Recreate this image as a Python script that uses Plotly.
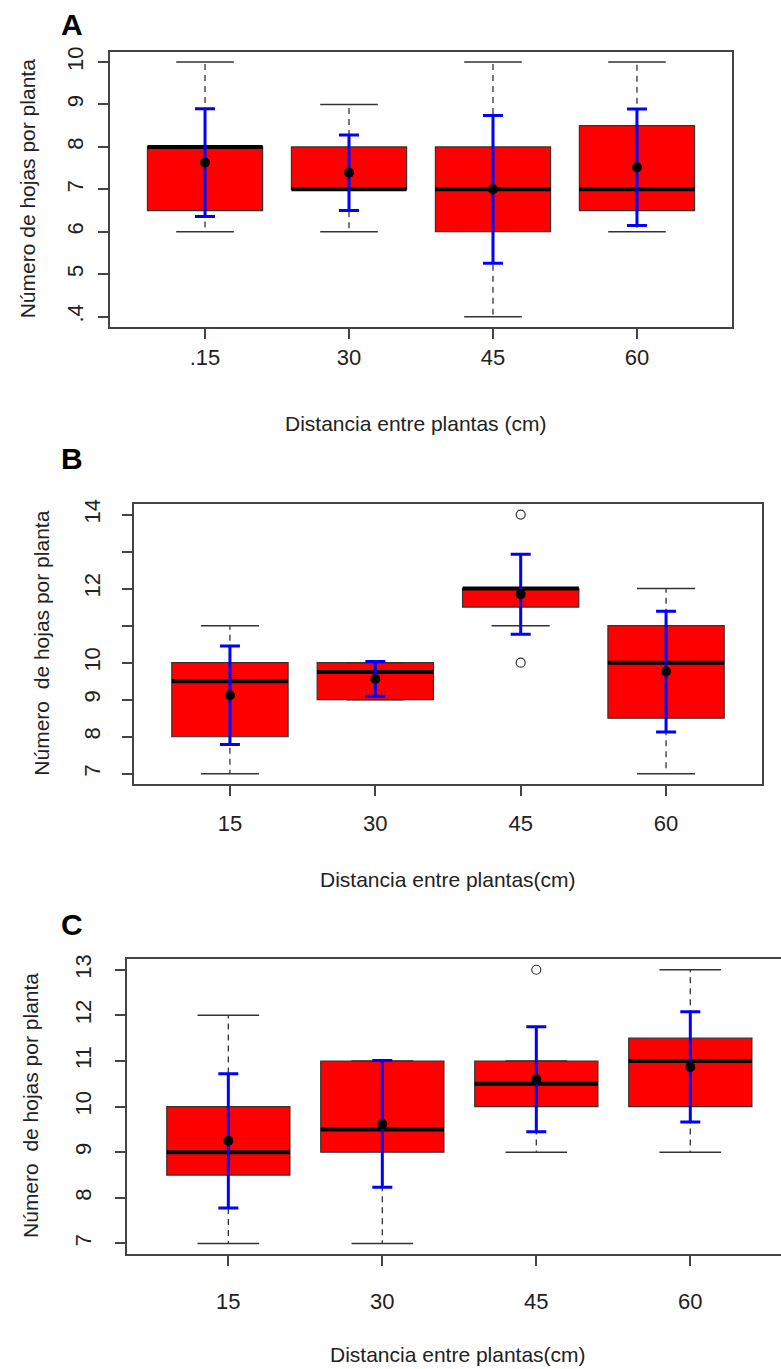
import plotly.graph_objects as go

W, H = 781, 1369

categories = ["15", "30", "45", "60"]

# Panel A
A_q1 = [6.5, 7.0, 6.0, 6.5]
A_med = [8.0, 7.0, 7.0, 7.0]
A_q3 = [8.0, 8.0, 8.0, 8.5]
A_lo = [6, 6, 4, 6]
A_hi = [10, 9, 10, 10]
A_out = [[], [], [], []]
A_mean = [7.63, 7.39, 7.00, 7.52]
A_sd = [1.27, 0.89, 1.74, 1.37]

# Panel B
B_q1 = [8.0, 9.0, 11.5, 8.5]
B_med = [9.5, 9.75, 12.0, 10.0]
B_q3 = [10.0, 10.0, 12.0, 11.0]
B_lo = [7, 9, 11, 7]
B_hi = [11, 10, 12, 12]
B_out = [[], [], [14, 10], []]
B_mean = [9.12, 9.56, 11.85, 9.76]
B_sd = [1.33, 0.47, 1.08, 1.63]

# Panel C
C_q1 = [8.5, 9.0, 10.0, 10.0]
C_med = [9.0, 9.5, 10.5, 11.0]
C_q3 = [10.0, 11.0, 11.0, 11.5]
C_lo = [7, 7, 9, 9]
C_hi = [12, 11, 11, 13]
C_out = [[], [], [13], []]
C_mean = [9.25, 9.62, 10.60, 10.87]
C_sd = [1.47, 1.39, 1.15, 1.21]

A_xticks = [".15", "30", "45", "60"]
A_yticks = [4, 5, 6, 7, 8, 9, 10]
A_yticktext = [".4", "5", "6", "7", "8", "9", "10"]
B_yticks = [7, 8, 9, 10, 11, 12, 13, 14]
B_yticktext = ["7", "8", "9", "10", "", "12", "", "14"]
C_yticks = [7, 8, 9, 10, 11, 12, 13]
C_yticktext = ["7", "8", "9", "10", "11", "12", "13"]

FONT = "Liberation Sans, Arial, sans-serif"
RED = "#FF0000"
BLUE = "#0000FF"
DARK = "#333333"

fig = go.Figure()


def add_panel(n, q1, med, q3, lo, hi, outs, mean, sd):
    xa = "x" if n == 1 else f"x{n}"
    ya = "y" if n == 1 else f"y{n}"
    pos = list(range(1, len(q1) + 1))
    # box bodies
    fig.add_trace(go.Bar(
        x=pos, y=[b - a for a, b in zip(q1, q3)], base=q1, width=0.8,
        marker=dict(color=RED, line=dict(color=DARK, width=1.2)),
        xaxis=xa, yaxis=ya, showlegend=False, hoverinfo="skip"))
    # dashed whiskers
    wx, wy = [], []
    for p, a, b, l, h in zip(pos, q1, q3, lo, hi):
        wx += [p, p, None, p, p, None]
        wy += [b, h, None, a, l, None]
    fig.add_trace(go.Scatter(x=wx, y=wy, mode="lines",
                             line=dict(color=DARK, width=1.3, dash="6px,5px"),
                             xaxis=xa, yaxis=ya, showlegend=False, hoverinfo="skip"))
    # caps
    cx, cy = [], []
    for p, l, h in zip(pos, lo, hi):
        cx += [p - 0.2, p + 0.2, None, p - 0.2, p + 0.2, None]
        cy += [h, h, None, l, l, None]
    fig.add_trace(go.Scatter(x=cx, y=cy, mode="lines",
                             line=dict(color=DARK, width=1.5),
                             xaxis=xa, yaxis=ya, showlegend=False, hoverinfo="skip"))
    # medians
    mx, my = [], []
    for p, m in zip(pos, med):
        mx += [p - 0.4, p + 0.4, None]
        my += [m, m, None]
    fig.add_trace(go.Scatter(x=mx, y=my, mode="lines",
                             line=dict(color="black", width=4),
                             xaxis=xa, yaxis=ya, showlegend=False, hoverinfo="skip"))
    # outliers
    ox, oy = [], []
    for p, o in zip(pos, outs):
        for v in o:
            ox.append(p)
            oy.append(v)
    if ox:
        fig.add_trace(go.Scatter(x=ox, y=oy, mode="markers",
                                 marker=dict(symbol="circle-open", size=9,
                                             color=DARK, line=dict(width=1.2)),
                                 xaxis=xa, yaxis=ya, showlegend=False, hoverinfo="skip"))
    # mean +- sd
    fig.add_trace(go.Scatter(x=pos, y=mean, mode="markers",
                             marker=dict(color="black", size=10),
                             error_y=dict(type="data", array=sd, color=BLUE,
                                          thickness=3, width=10),
                             xaxis=xa, yaxis=ya, showlegend=False, hoverinfo="skip"))


add_panel(1, A_q1, A_med, A_q3, A_lo, A_hi, A_out, A_mean, A_sd)
add_panel(2, B_q1, B_med, B_q3, B_lo, B_hi, B_out, B_mean, B_sd)
add_panel(3, C_q1, C_med, C_q3, C_lo, C_hi, C_out, C_mean, C_sd)


def px_x(v):
    return v / W


def px_y(v):
    return 1 - v / H


axis_common = dict(showline=True, linecolor="#444444", linewidth=1.5,
                   ticks="outside", ticklen=10, tickcolor="#444444", tickwidth=1.5,
                   showgrid=False, zeroline=False,
                   tickfont=dict(family=FONT, size=22, color="#222222"))

fig.update_layout(
    width=W, height=H,
    margin=dict(l=0, r=0, t=0, b=0),
    paper_bgcolor="white", plot_bgcolor="white",
    barmode="overlay",
    font=dict(family=FONT, color="#222222"),
    xaxis=dict(domain=[px_x(110), px_x(732)], anchor="y", range=[0.34, 4.66],
               tickvals=[1, 2, 3, 4], ticktext=A_xticks, mirror=True,
               ticklabelstandoff=0, **axis_common),
    yaxis=dict(domain=[px_y(323), px_y(47)], anchor="x", range=[3.76, 10.24],
               tickvals=A_yticks, ticktext=A_yticktext, tickangle=-90, mirror=True,
               ticklabelstandoff=6, **axis_common),
    xaxis2=dict(domain=[px_x(134), px_x(762)], anchor="y2", range=[0.34, 4.66],
                tickvals=[1, 2, 3, 4], ticktext=categories, mirror=True,
                ticklabelstandoff=9, **axis_common),
    yaxis2=dict(domain=[px_y(782), px_y(501)], anchor="x2", range=[6.72, 14.28],
                tickvals=B_yticks, ticktext=B_yticktext, tickangle=-90, mirror=True,
                ticklabelstandoff=13, **axis_common),
    xaxis3=dict(domain=[px_x(126.7), 1.0], anchor="y3", range=[0.34, 4.589],
                tickvals=[1, 2, 3, 4], ticktext=categories, mirror=True,
                ticklabelstandoff=16, **axis_common),
    yaxis3=dict(domain=[px_y(1254), px_y(957.3)], anchor="x3", range=[6.76, 13.24],
                tickvals=C_yticks, ticktext=C_yticktext, tickangle=-90, mirror=False,
                ticklabelstandoff=15, **axis_common),
)

annots = [
    ("A", 72, 20, 0, 30, True),
    ("B", 72, 455, 0, 30, True),
    ("C", 72, 923, 0, 30, True),
    ("Número de hojas por planta", 27, 185, -90, 21, False),
    ("Distancia entre plantas (cm)", 415, 420, 0, 21, False),
    ("Número  de hojas por planta", 42, 641, -90, 21, False),
    ("Distancia entre plantas(cm)", 448, 878, 0, 21, False),
    ("Número  de hojas por planta", 31, 1105, -90, 21, False),
    ("Distancia entre plantas(cm)", 458, 1354, 0, 21, False),
]
for text, x, y, ang, size, bold in annots:
    fig.add_annotation(
        text=f"<b>{text}</b>" if bold else text,
        x=px_x(x), y=px_y(y), xref="paper", yref="paper",
        xanchor="center", yanchor="middle", showarrow=False, textangle=ang,
        font=dict(family=FONT, size=size, color="black" if bold else "#222222"))

fig.write_html("out.html",
               config={"displayModeBar": False},
               post_script="document.body.style.margin='0';document.body.style.overflow='hidden';")
